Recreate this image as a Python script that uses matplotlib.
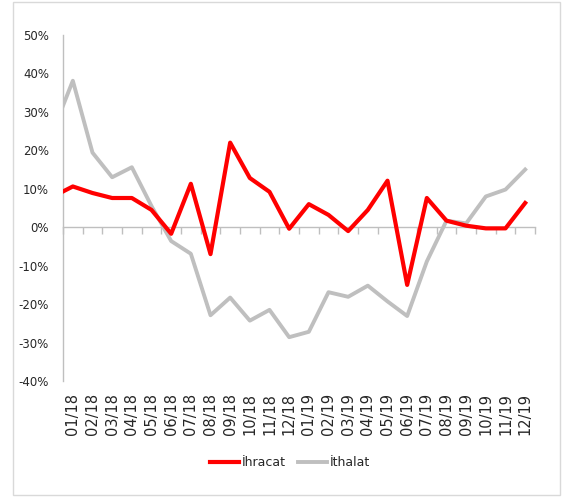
import numpy as np
import matplotlib.pyplot as plt
from matplotlib.patches import Rectangle

plt.rcParams['font.family'] = ['DejaVu Sans']

# 24 months; first value (12/17) only shows as the clipped start of the lines
months = ['01/18','02/18','03/18','04/18','05/18','06/18','07/18','08/18','09/18','10/18','11/18','12/18',
          '01/19','02/19','03/19','04/19','05/19','06/19','07/19','08/19','09/19','10/19','11/19','12/19']
ihracat = [8.0, 10.6, 8.9, 7.6, 7.6, 4.5, -1.7, 11.3, -7.0, 22.0, 12.8, 9.2, -0.4,
           6.0, 3.2, -1.0, 4.5, 12.1, -15.0, 7.6, 1.7, 0.4, -0.3, -0.3, 6.3]
ithalat = [25.1, 38.1, 19.4, 13.0, 15.6, 5.5, -3.6, -6.9, -22.9, -18.3, -24.3, -21.5, -28.6,
           -27.2, -16.9, -18.1, -15.2, -19.3, -23.1, -8.9, 1.7, 1.0, 8.0, 9.8, 15.0]
yticks = [-40, -30, -20, -10, 0, 10, 20, 30, 40, 50]

W, H = 562, 497
fig = plt.figure(figsize=(W/100, H/100), dpi=100)
fig.patches.append(Rectangle((13/W, 2/H), 547/W, 493/H, transform=fig.transFigure,
                             fill=False, edgecolor='#d9d9d9', linewidth=1.0))

ax = fig.add_axes([63/W, 116/H, 472/W, 346/H])
x = np.arange(-1, len(months))
l1, = ax.plot(x, ihracat, color='#ff0000', lw=3.0, label='İhracat', zorder=3)
l2, = ax.plot(x, ithalat, color='#bfbfbf', lw=2.8, label='İthalat', zorder=2)

ax.set_xlim(-0.5, len(months) - 0.5)
ax.set_ylim(-40, 50)
ax.set_yticks(yticks)
ax.set_yticklabels([f'{v}%' for v in yticks], fontsize=8.5, color='#262626')
ax.tick_params(axis='y', length=0, pad=10)

for s in ['top', 'right']:
    ax.spines[s].set_visible(False)
ax.spines['left'].set_color('#bfbfbf')
ax.spines['left'].set_linewidth(1.0)
ax.spines['bottom'].set_position(('data', 0))
ax.spines['bottom'].set_color('#bfbfbf')
ax.spines['bottom'].set_linewidth(1.0)
ax.set_xticks(np.arange(-0.5, len(months) + 0.5, 1))
ax.set_xticklabels([])
ax.tick_params(axis='x', direction='out', length=5, color='#bfbfbf', width=1.0)

for i, m in enumerate(months):
    ax.text(i, -0.035, m, transform=ax.get_xaxis_transform(), rotation=90,
            ha='center', va='top', fontsize=10.5, color='#262626')

fig.legend(handles=[l1, l2], loc='center', bbox_to_anchor=(290/W, 1 - 463/H), ncol=2,
           frameon=False, fontsize=9, handlelength=2.3, handletextpad=0.2,
           columnspacing=1.0, labelcolor='#262626')

fig.savefig('out.png', dpi=100)
